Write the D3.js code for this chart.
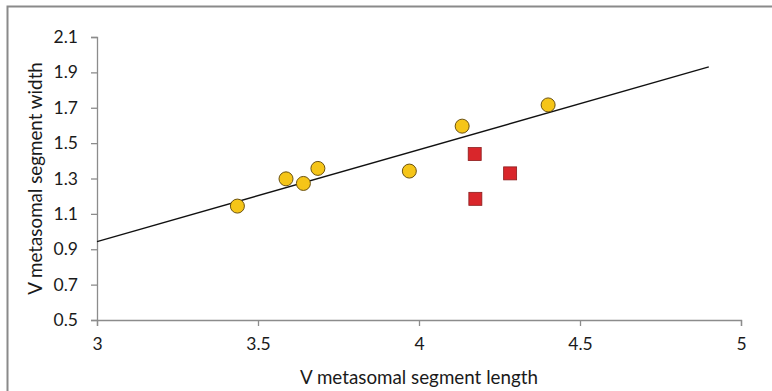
<!DOCTYPE html>
<html>
<head>
<meta charset="utf-8">
<script src="https://cdn.jsdelivr.net/npm/d3@7"></script>
<style>
  body { margin: 0; background: #fff; }
  svg { display: block; font-family: Lato, "Open Sans", sans-serif; }
</style>
</head>
<body>
<div id="chart"></div>
<script>
// circles (yellow series)
const lengthA = [3.436, 3.587, 3.641, 3.686, 3.970, 4.134, 4.401];
const widthA = [1.144, 1.298, 1.272, 1.357, 1.342, 1.596, 1.716];
// squares (red series)
const lengthB = [4.173, 4.175, 4.283];
const widthB = [1.438, 1.185, 1.329];
// linear trend line end points
const trendX = [3, 4.9];
const trendY = [0.943, 1.931];
const xTicks = [3, 3.5, 4, 4.5, 5];
const yTicks = [0.5, 0.7, 0.9, 1.1, 1.3, 1.5, 1.7, 1.9, 2.1];

const W = 772, H = 391;
const margin = { top: 37, right: 31, bottom: 71, left: 97 };
const width = W - margin.left - margin.right;
const height = H - margin.top - margin.bottom;

const svg = d3.select('#chart')
  .append('svg')
    .attr('width', W)
    .attr('height', H);

// outer frame (only top and left edges visible)
svg.append('rect')
  .attr('x', 7.5).attr('y', 6.5)
  .attr('width', W + 10).attr('height', H + 10)
  .attr('fill', 'none')
  .attr('stroke', '#8a8a8a')
  .attr('stroke-width', 2);

const g = svg.append('g')
  .attr('transform', `translate(${margin.left},${margin.top})`);

const x = d3.scaleLinear().domain([3, 5]).range([0, width]);
const y = d3.scaleLinear().domain([0.5, 2.1]).range([height, 0]);

const axisColor = '#8c8c8c';

const xAxis = g.append('g')
  .attr('transform', `translate(0,${height})`)
  .call(d3.axisBottom(x).tickValues(xTicks).tickSize(6).tickPadding(12).tickFormat(d3.format('')));
const yAxis = g.append('g')
  .call(d3.axisLeft(y).tickValues(yTicks).tickSize(6).tickPadding(13).tickFormat(d3.format('.1f')));

[xAxis, yAxis].forEach(a => {
  a.attr('font-family', null).attr('font-size', null);
  a.select('.domain').attr('stroke', axisColor).attr('stroke-width', 1.3);
  a.selectAll('.tick line').attr('stroke', axisColor).attr('stroke-width', 1.3);
  a.selectAll('.tick text').attr('fill', '#1a1a1a').style('font-size', '17.5px');
});

// axis titles
g.append('text')
  .attr('x', width / 2)
  .attr('y', height + 64)
  .attr('text-anchor', 'middle')
  .attr('fill', '#1a1a1a')
  .style('font-size', '18.8px')
  .text('V metasomal segment length');

g.append('text')
  .attr('transform', 'rotate(-90)')
  .attr('x', -height / 2)
  .attr('y', -55)
  .attr('text-anchor', 'middle')
  .attr('fill', '#1a1a1a')
  .style('font-size', '18.8px')
  .text('V metasomal segment width');

// trend line
const line = d3.line()
  .x(d => x(d[0]))
  .y(d => y(d[1]));
g.append('path')
  .datum(d3.zip(trendX, trendY))
  .attr('fill', 'none')
  .attr('stroke', '#111')
  .attr('stroke-width', 1.4)
  .attr('d', line);

// circles
g.selectAll('circle')
  .data(d3.zip(lengthA, widthA))
  .enter()
  .append('circle')
    .attr('cx', d => x(d[0]))
    .attr('cy', d => y(d[1]))
    .attr('r', 7)
    .attr('fill', '#f5c518')
    .attr('stroke', '#6b5210')
    .attr('stroke-width', 1);

// squares
const sq = 13;
g.selectAll('rect.sq')
  .data(d3.zip(lengthB, widthB))
  .enter()
  .append('rect')
    .attr('class', 'sq')
    .attr('x', d => x(d[0]) - sq / 2)
    .attr('y', d => y(d[1]) - sq / 2)
    .attr('width', sq)
    .attr('height', sq)
    .attr('fill', '#d9262b')
    .attr('stroke', '#8a1d1d')
    .attr('stroke-width', 0.8);
</script>
</body>
</html>
